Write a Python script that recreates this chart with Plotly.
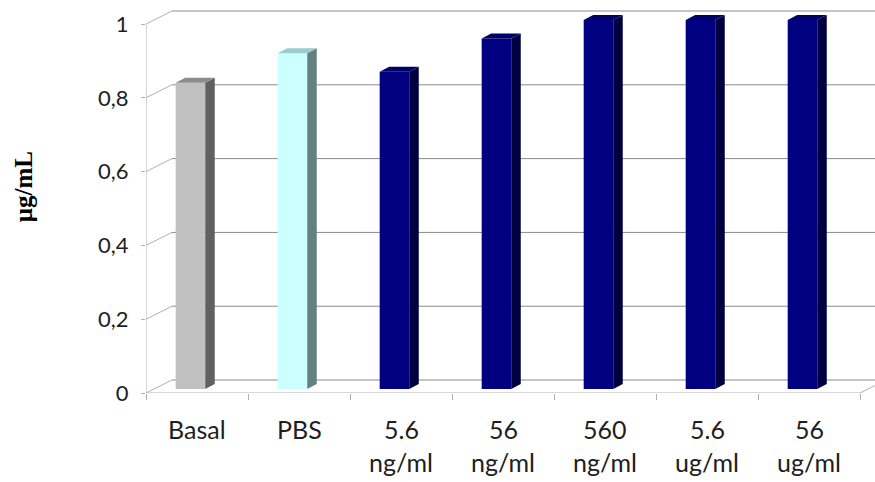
import plotly.graph_objects as go

# ---------------- data ----------------
categories = ["Basal", "PBS", "5.6 ng/ml", "56 ng/ml", "560 ng/ml", "5.6 ug/ml", "56 ug/ml"]
values = [0.83, 0.91, 0.86, 0.95, 1.0, 1.0, 1.0]
front_colors = ["#c0c0c0", "#ccffff", "#000080", "#000080", "#000080", "#000080", "#000080"]
side_colors = ["#606060", "#668080", "#000040", "#000040", "#000040", "#000040", "#000040"]
top_colors = ["#8c8c8c", "#99cccc", "#000066", "#000066", "#000066", "#000066", "#000066"]
y_ticks = [0, 0.2, 0.4, 0.6, 0.8, 1.0]
y_tick_labels = ["0", "0,2", "0,4", "0,6", "0,8", "1"]
y_title = "μg/mL"

# ---------------- pseudo-3D geometry (axis units) ----------------
DX_WALL, DY_WALL = 0.255, 0.0352      # depth offset of back wall
BAR_OFF, BAR_W = -0.064, 0.29         # bar front-face offset & width
BAR_BASE = 0.0108                     # bar floor level in front-plane units
SIDE_DX, SIDE_DY = 0.093, 0.0135      # bar depth
n = len(categories)
X_MIN, X_MAX = -0.5, 6.647
Y_MAX = 388 / 369

GRID = "#8a8a8a"
AXIS = "#b0b0b0"
FONT = "Lato"
TXT = "#1e1e1e"

fig = go.Figure()

# front faces
fig.add_trace(go.Bar(
    x=[i + BAR_OFF for i in range(n)], y=values, base=BAR_BASE, width=BAR_W,
    marker=dict(color=front_colors, line=dict(width=0)), showlegend=False, hoverinfo="skip"))

# side and top faces
for i, v in enumerate(values):
    xl = i + BAR_OFF - BAR_W / 2
    xr = i + BAR_OFF + BAR_W / 2
    b = BAR_BASE
    t = BAR_BASE + v
    fig.add_trace(go.Scatter(
        x=[xr, xr + SIDE_DX, xr + SIDE_DX, xr, xr],
        y=[b, b + SIDE_DY, t + SIDE_DY, t, b],
        fill="toself", fillcolor=side_colors[i], mode="lines", line=dict(width=0),
        showlegend=False, hoverinfo="skip"))
    fig.add_trace(go.Scatter(
        x=[xl, xl + SIDE_DX, xr + SIDE_DX, xr, xl],
        y=[t, t + SIDE_DY, t + SIDE_DY, t, t],
        fill="toself", fillcolor=top_colors[i], mode="lines", line=dict(width=0),
        showlegend=False, hoverinfo="skip"))

shapes = []
for v in y_ticks:
    # back wall gridline
    shapes.append(dict(type="line", layer="below", xref="x", yref="y",
                       x0=X_MIN + DX_WALL, y0=v + DY_WALL, x1=n - 0.5 + DX_WALL, y1=v + DY_WALL,
                       line=dict(color=GRID, width=1)))
    # diagonal from front axis to back wall
    shapes.append(dict(type="line", layer="below", xref="x", yref="y",
                       x0=X_MIN, y0=v, x1=X_MIN + DX_WALL, y1=v + DY_WALL,
                       line=dict(color=AXIS, width=1)))
# front value axis
shapes.append(dict(type="line", layer="below", xref="x", yref="y",
                   x0=X_MIN, y0=0, x1=X_MIN, y1=y_ticks[-1], line=dict(color=AXIS, width=1)))
# floor front edge and right diagonal
shapes.append(dict(type="line", layer="below", xref="x", yref="y",
                   x0=X_MIN, y0=0, x1=n - 0.5, y1=0, line=dict(color=AXIS, width=1)))
shapes.append(dict(type="line", layer="below", xref="x", yref="y",
                   x0=n - 0.5, y0=0, x1=n - 0.5 + DX_WALL, y1=DY_WALL, line=dict(color=AXIS, width=1)))

annotations = []
for i, c in enumerate(categories):
    parts = c.split(" ")
    line1 = parts[0]
    line2 = " ".join(parts[1:])
    annotations.append(dict(x=i, y=-0.0928, xref="x", yref="paper", text=line1, showarrow=False,
                            xanchor="center", yanchor="middle",
                            font=dict(family=FONT, size=25, color=TXT)))
    if line2:
        annotations.append(dict(x=i, y=-0.1778, xref="x", yref="paper", text=line2, showarrow=False,
                                xanchor="center", yanchor="middle",
                                font=dict(family=FONT, size=25, color=TXT)))
annotations.append(dict(x=-0.167, y=0.531, xref="paper", yref="paper", text="<b>" + y_title + "</b>",
                        textangle=-90, showarrow=False, xanchor="center", yanchor="middle",
                        font=dict(family="Liberation Serif", size=25, color="#000000")))

fig.update_layout(
    width=875, height=482,
    margin=dict(l=146, r=0, t=5, b=89),
    paper_bgcolor="white", plot_bgcolor="white",
    showlegend=False,
    shapes=shapes, annotations=annotations,
    xaxis=dict(range=[X_MIN, X_MAX], tickvals=[k - 0.5 for k in range(n + 1)],
               showticklabels=False, ticks="outside", ticklen=6, tickcolor=AXIS,
               showgrid=False, zeroline=False, showline=False, fixedrange=True),
    yaxis=dict(range=[0, Y_MAX], tickvals=y_ticks, ticktext=y_tick_labels,
               ticks="outside", ticklen=4, tickcolor=AXIS, ticklabelstandoff=8,
               tickfont=dict(family=FONT, size=22, color=TXT),
               showgrid=False, zeroline=False, showline=False, fixedrange=True),
)

fig.write_html("out.html")
